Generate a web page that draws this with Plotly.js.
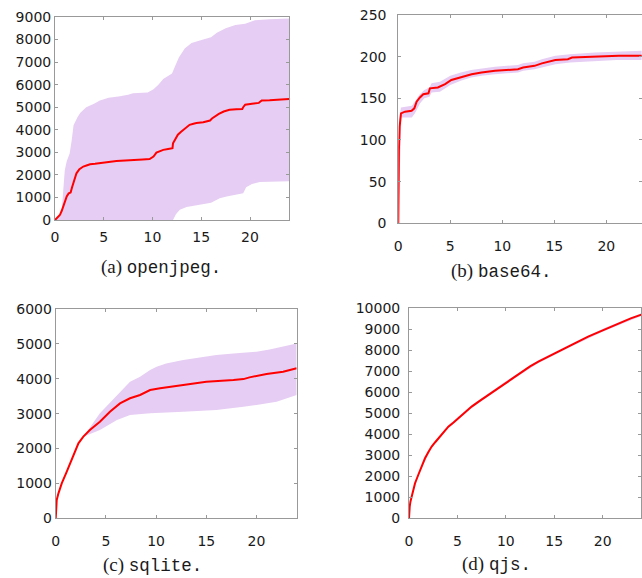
<!DOCTYPE html>
<html><head><meta charset="utf-8">
<script src="https://cdn.plot.ly/plotly-3.0.1.min.js"></script>
<style>html,body{margin:0;padding:0;background:#fff}#chart{width:642px;height:578px}</style>
</head><body><div id="chart"></div>
<script>
// ---------- (a) openjpeg ----------
const openjpegMeanX = [0,0.3,0.5,0.7,0.85,1.0,1.2,1.4,1.6,1.75,1.9,2.05,2.2,2.5,2.9,3.3,3.6,4.1,4.6,5.3,6.3,7.2,8.0,9.0,9.7,9.95,10.1,10.4,10.8,11.1,11.6,12.05,12.1,12.3,12.6,12.9,13.2,13.5,13.8,14.2,14.5,15.2,15.9,16.1,16.4,16.8,17.3,17.9,18.6,19.2,19.3,19.5,20.2,20.9,21.0,21.2,22.0,22.7,24];
const openjpegMeanY = [0,150,220,420,600,850,1040,1180,1215,1450,1700,1900,2070,2250,2370,2430,2470,2490,2520,2590,2620,2640,2670,2680,2700,2750,2810,2990,3070,3110,3150,3185,3400,3550,3780,3900,4000,4120,4220,4270,4300,4330,4410,4500,4590,4700,4810,4890,4910,4920,5000,5110,5150,5190,5230,5300,5310,5330,5360];
const openjpegHiX = [0,0.6,0.72,0.85,1.0,1.2,1.5,1.7,1.9,2.3,2.6,3.2,4.0,4.6,5.5,6.5,7.5,8.0,9.5,10.1,10.6,11.1,12.0,12.3,12.7,13.3,14.0,15.2,16.0,16.6,17.5,18.5,19.5,20.5,22,24];
const openjpegHiY = [0,200,600,1600,2200,2600,2950,3500,4200,4550,4750,5000,5150,5300,5420,5480,5550,5620,5650,5800,6000,6250,6500,6800,7200,7600,7850,8000,8100,8300,8500,8650,8700,8850,8900,8930];
const openjpegLoX = [0,12.1,12.4,12.8,13.5,14.5,15.5,16.0,16.3,16.9,17.6,18.6,19.3,19.6,20.2,21,24];
const openjpegLoY = [0,0,250,450,580,650,700,760,830,960,1040,1110,1180,1450,1600,1680,1720];

// ---------- (b) base64 ----------
const base64MeanX = [0,0.01,0.06,0.13,0.26,0.64,1.28,1.54,1.76,2.08,2.4,2.9,3.04,3.8,4.5,5.1,6.1,7.05,8.0,9.3,11.5,12.0,13.1,13.8,15.1,16.3,16.7,18.9,20.8,21.2,23.4];
const base64MeanY = [0,56,88,116,132,134,135,138,146,151,155,156,162,163,167,172,176,179,181,183,185,187,189,192,196,197,199,200,200,201,201];
const base64HiX = [0,0.1,0.25,1.3,1.6,2.0,2.5,3.0,3.2,4.0,5.0,6.0,7.0,8.0,9.3,11.5,12.0,13.1,13.8,15.1,16.5,18.9,21,23.4];
const base64HiY = [90,125,139,141,146,154,160,163,168,170,177,181,184,186,188,190,192,194,197,201,203,205,206,207];
const base64LoX = [0,0.25,0.3,1.3,1.6,2.1,2.5,3.0,3.2,4.0,5.0,6.0,7.0,8.0,9.3,11.5,12.0,13.1,13.8,15.1,16.5,18.9,21,23.4];
const base64LoY = [0,118,127,127,132,144,150,152,157,158,166,171,175,177,179,181,183,185,187,191,193,195,196,196];

// ---------- (c) sqlite ----------
const sqliteMeanX = [0,0.03,0.1,0.27,0.6,1.1,1.76,2.26,2.75,3.4,4.4,5.4,6.4,7.4,8.4,9.4,10.4,12.7,15.0,17.7,18.7,19.3,21.0,22.65,24];
const sqliteMeanY = [0,300,525,716,1000,1337,1815,2150,2340,2530,2770,3056,3295,3440,3534,3677,3725,3820,3916,3964,3990,4040,4135,4200,4300];
const sqliteHiX = [0,2.75,4.4,6.1,7.4,8.4,9.4,10.05,11.0,12.7,14.4,16.0,18.0,20.0,21.3,22.65,24];
const sqliteHiY = [0,2340,3010,3534,3916,4060,4250,4346,4441,4537,4613,4680,4728,4776,4842,4919,5014];
const sqliteLoX = [0,2.75,4.4,6.1,7.4,9.4,12.7,16.0,18.7,20.0,22.0,24];
const sqliteLoY = [0,2340,2531,2818,2961,3009,3056,3104,3200,3247,3343,3534];

// ---------- (d) qjs ----------
const qjsMeanX = [0,0.02,0.07,0.15,0.28,0.45,0.62,0.9,1.14,1.4,1.65,2.0,2.34,2.7,3.03,3.5,4.06,4.6,5.1,5.8,6.47,7.3,8.19,9.0,9.91,10.8,11.6,12.5,13.36,14.2,15.08,16.0,16.8,17.7,18.5,19.4,20.24,21.1,21.96,22.9,24];
const qjsMeanY = [0,300,556,800,1032,1380,1667,2000,2300,2600,2857,3150,3413,3620,3810,4080,4365,4560,4762,5050,5317,5590,5873,6130,6429,6720,6984,7230,7460,7660,7857,8070,8254,8460,8651,8830,9000,9190,9365,9520,9700];
const qjsHiX = [0,0.28,1.14,2.34,4.06,6.47,9.91,13.36,16.8,20.24,24];
const qjsHiY = [0,1080,2350,3470,4430,5380,6500,7530,8320,9070,9770];
const qjsLoX = [0,0.28,1.14,2.34,4.06,6.47,9.91,13.36,16.8,20.24,24];
const qjsLoY = [0,980,2250,3360,4300,5250,6360,7390,8190,8930,9630];

const FILL = '#e6cdf3';
const RED = '#ff0000';

function band(lx, ly, hx, hy, mx, my, xa, ya) {
  return [
    {x: lx, y: ly, xaxis: xa, yaxis: ya, mode: 'lines', line: {width: 0, color: FILL}, hoverinfo: 'skip', showlegend: false},
    {x: hx, y: hy, xaxis: xa, yaxis: ya, mode: 'lines', fill: 'tonexty', fillcolor: FILL, line: {width: 0, color: FILL}, hoverinfo: 'skip', showlegend: false},
    {x: mx, y: my, xaxis: xa, yaxis: ya, mode: 'lines', line: {width: 2, color: RED}, showlegend: false}
  ];
}

const data = [].concat(
  band(openjpegLoX, openjpegLoY, openjpegHiX, openjpegHiY, openjpegMeanX, openjpegMeanY, 'x', 'y'),
  band(base64LoX, base64LoY, base64HiX, base64HiY, base64MeanX, base64MeanY, 'x2', 'y2'),
  band(sqliteLoX, sqliteLoY, sqliteHiX, sqliteHiY, sqliteMeanX, sqliteMeanY, 'x3', 'y3'),
  band(qjsLoX, qjsLoY, qjsHiX, qjsHiY, qjsMeanX, qjsMeanY, 'x4', 'y4')
);

const TICKFONT = {family: 'DejaVu Sans, Liberation Sans, sans-serif', size: 14, color: '#1a1a1a'};
function xax(domain, range, anchor, standoff) {
  return {domain: domain, range: range, anchor: anchor, dtick: 5, tick0: 0, ticks: 'inside', ticklen: 3,
    tickcolor: '#999', showline: true, linecolor: '#999', linewidth: 1, mirror: 'ticks',
    showgrid: false, zeroline: false, tickfont: TICKFONT, ticklabelstandoff: standoff, fixedrange: true,
    tickformat: 'd'};
}
function yax(domain, range, dtick, anchor, standoff) {
  return {domain: domain, range: range, anchor: anchor, dtick: dtick, tick0: 0, ticks: 'inside', ticklen: 3,
    tickcolor: '#999', showline: true, linecolor: '#999', linewidth: 1, mirror: 'ticks',
    showgrid: false, zeroline: false, tickfont: TICKFONT, ticklabelstandoff: standoff, fixedrange: true,
    tickformat: 'd', exponentformat: 'none', separatethousands: false};
}

function cap(letter, name, x, y) {
  return {xref: 'paper', yref: 'paper', x: x, y: y, xanchor: 'center', yanchor: 'middle', showarrow: false,
    text: '<span style="font-family:Liberation Serif;font-size:19px">(' + letter + ') </span>' + name + '.',
    font: {family: 'Liberation Mono, DejaVu Sans Mono, monospace', size: 17.5, color: '#1a1a1a'}};
}

const layout = {
  width: 642, height: 578,
  margin: {l: 0, r: 0, t: 0, b: 0},
  paper_bgcolor: '#fff', plot_bgcolor: '#fff',
  showlegend: false,
  xaxis:  xax([0.0857, 0.4502], [0, 24], 'y', 4),
  yaxis:  yax([0.6194, 0.9706], [0, 9000], 1000, 'x', 0),
  xaxis2: xax([0.6204, 1.0], [0, 23.43], 'y2', 10),
  yaxis2: yax([0.6137, 0.9740], [0, 250], 50, 'x2', 8),
  xaxis3: xax([0.0868, 0.4621], [0, 24], 'y3', 10),
  yaxis3: yax([0.1033, 0.4654], [0, 6000], 1000, 'x3', 0),
  xaxis4: xax([0.6371, 0.9991], [0, 24], 'y4', 10),
  yaxis4: yax([0.1034, 0.4666], [0, 10000], 1000, 'x4', 5),
  annotations: [
    cap('a', 'openjpeg', 0.2508, 0.5381),
    cap('b', 'base64', 0.7804, 0.5311),
    cap('c', 'sqlite', 0.2383, 0.0225),
    cap('d', 'qjs', 0.7741, 0.0242)
  ]
};

Plotly.newPlot('chart', data, layout, {displayModeBar: false, staticPlot: true});
</script>
</body></html>
